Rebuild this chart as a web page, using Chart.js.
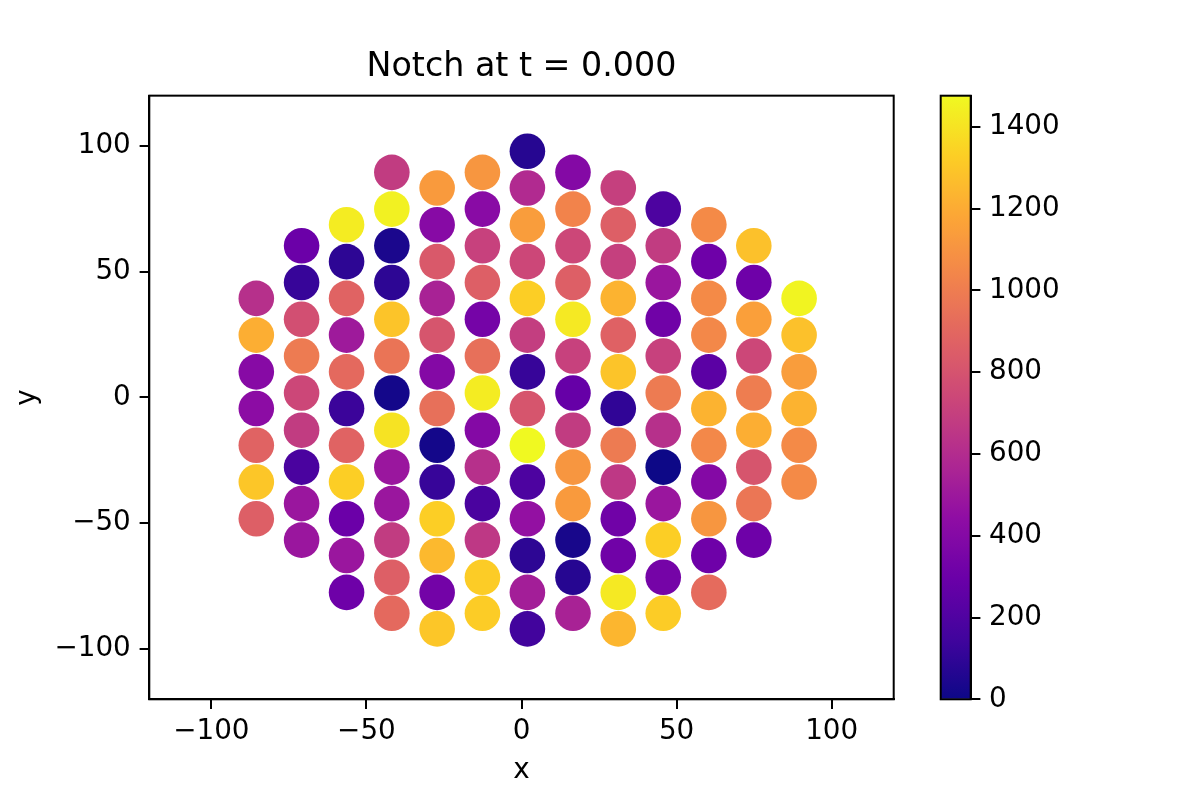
<!DOCTYPE html>
<html>
<head>
<meta charset="utf-8">
<title>Notch at t = 0.000</title>
<script src="https://cdn.jsdelivr.net/npm/chart.js@4/dist/chart.umd.min.js"></script>
<style>
  html, body { margin: 0; padding: 0; background: #ffffff; }
  #wrap { position: relative; width: 1200px; height: 800px; background: #ffffff; overflow: hidden; }
  #main { position: absolute; left: 0; top: 0; }
  #cbar { position: absolute; left: 900px; top: 0; }
</style>
</head>
<body>
<div id="wrap">
  <canvas id="main" width="940" height="800"></canvas>
  <canvas id="cbar" width="300" height="800"></canvas>
</div>
<script>
// ---------------- data ----------------
const titleText = 'Notch at t = 0.000';
const xLabel = 'x';
const yLabel = 'y';

// point x coordinates, one column per line
const xValues = [
  -85.5, -85.5, -85.5, -85.5, -85.5, -85.5, -85.5,
  -70.9, -70.9, -70.9, -70.9, -70.9, -70.9, -70.9, -70.9, -70.9,
  -56.4, -56.4, -56.4, -56.4, -56.4, -56.4, -56.4, -56.4, -56.4, -56.4, -56.4,
  -41.8, -41.8, -41.8, -41.8, -41.8, -41.8, -41.8, -41.8, -41.8, -41.8, -41.8, -41.8, -41.8,
  -27.2, -27.2, -27.2, -27.2, -27.2, -27.2, -27.2, -27.2, -27.2, -27.2, -27.2, -27.2, -27.2,
  -12.6, -12.6, -12.6, -12.6, -12.6, -12.6, -12.6, -12.6, -12.6, -12.6, -12.6, -12.6, -12.6,
  1.9, 1.9, 1.9, 1.9, 1.9, 1.9, 1.9, 1.9, 1.9, 1.9, 1.9, 1.9, 1.9, 1.9,
  16.6, 16.6, 16.6, 16.6, 16.6, 16.6, 16.6, 16.6, 16.6, 16.6, 16.6, 16.6, 16.6,
  31.2, 31.2, 31.2, 31.2, 31.2, 31.2, 31.2, 31.2, 31.2, 31.2, 31.2, 31.2, 31.2,
  45.7, 45.7, 45.7, 45.7, 45.7, 45.7, 45.7, 45.7, 45.7, 45.7, 45.7, 45.7,
  60.4, 60.4, 60.4, 60.4, 60.4, 60.4, 60.4, 60.4, 60.4, 60.4, 60.4,
  74.9, 74.9, 74.9, 74.9, 74.9, 74.9, 74.9, 74.9, 74.9,
  89.5, 89.5, 89.5, 89.5, 89.5, 89.5
];

// point y coordinates, one column per line
const yValues = [
  39.4, 24.8, 10.2, -4.4, -19.0, -33.6, -48.2,
  60.3, 45.7, 31.1, 16.5, 1.8, -13.0, -27.7, -42.2, -56.7,
  68.7, 54.0, 39.4, 24.8, 10.2, -4.4, -19.0, -33.6, -48.2, -62.8, -77.5,
  89.5, 74.9, 60.3, 45.7, 31.1, 16.5, 1.8, -13.0, -27.7, -42.2, -56.7, -71.5, -85.8,
  83.3, 68.7, 54.0, 39.4, 24.8, 10.2, -4.4, -19.0, -33.6, -48.2, -62.8, -77.5, -92.0,
  89.5, 74.9, 60.3, 45.7, 31.1, 16.5, 1.8, -13.0, -27.7, -42.2, -56.7, -71.5, -85.8,
  97.9, 83.3, 68.7, 54.0, 39.4, 24.8, 10.2, -4.4, -19.0, -33.6, -48.2, -62.8, -77.5, -92.0,
  89.5, 74.9, 60.3, 45.7, 31.1, 16.5, 1.8, -13.0, -27.7, -42.2, -56.7, -71.5, -85.8,
  83.3, 68.7, 54.0, 39.4, 24.8, 10.2, -4.4, -19.0, -33.6, -48.2, -62.8, -77.5, -92.0,
  74.9, 60.3, 45.7, 31.1, 16.5, 1.8, -13.0, -27.7, -42.2, -56.7, -71.5, -85.8,
  68.7, 54.0, 39.4, 24.8, 10.2, -4.4, -19.0, -33.6, -48.2, -62.8, -77.5,
  60.3, 45.7, 31.1, 16.5, 1.8, -13.0, -27.7, -42.2, -56.7,
  39.4, 24.8, 10.2, -4.4, -19.0, -33.6
];

// Notch value per point (colour), one column per line
const notchValues = [
  620, 1210, 410, 430, 880, 1300, 860,
  300, 120, 780, 990, 740, 680, 180, 490, 490,
  1430, 90, 880, 510, 910, 130, 880, 1330, 300, 490, 310,
  680, 1450, 40, 90, 1290, 960, 20, 1400, 490, 490, 680, 860, 910,
  1130, 410, 830, 550, 810, 400, 940, 20, 120, 1330, 1250, 330, 1300,
  1110, 420, 710, 860, 340, 940, 1430, 400, 620, 180, 660, 1320, 1320,
  70, 590, 1140, 740, 1330, 690, 120, 810, 1476, 190, 460, 90, 530, 150,
  400, 1030, 740, 860, 1420, 710, 280, 680, 1110, 1130, 30, 70, 550,
  700, 860, 700, 1230, 870, 1290, 100, 990, 660, 320, 320, 1420, 1240,
  190, 680, 490, 320, 710, 990, 620, 0, 490, 1330, 340, 1320,
  1060, 310, 1060, 1050, 240, 1230, 1050, 400, 1110, 310, 920,
  1280, 310, 1150, 740, 1000, 1210, 810, 970, 310,
  1460, 1280, 1140, 1230, 1060, 1060
];

const xRange = [-120, 120];
const yRange = [-120, 120];
const xTicks = [-100, -50, 0, 50, 100];
const yTicks = [-100, -50, 0, 50, 100];
const colorMin = 0;
const colorMax = 1476;
const colorTicks = [0, 200, 400, 600, 800, 1000, 1200, 1400];

// ---------------- styling helpers ----------------
const plasmaStops = ['#0d0887', '#41049d', '#6a00a8', '#8f0da4', '#b12a90', '#cc4778',
                     '#e16462', '#f2844b', '#fca636', '#fcce25', '#f0f921'];
function hexToRgb(h) {
  return [parseInt(h.slice(1, 3), 16), parseInt(h.slice(3, 5), 16), parseInt(h.slice(5, 7), 16)];
}
const plasmaRgb = plasmaStops.map(hexToRgb);
function plasma(t) {
  t = Math.max(0, Math.min(1, t));
  const n = plasmaRgb.length - 1;
  const p = t * n;
  const i = Math.min(Math.floor(p), n - 1);
  const f = p - i;
  const a = plasmaRgb[i], b = plasmaRgb[i + 1];
  const c = [0, 1, 2].map(k => Math.round(a[k] + (b[k] - a[k]) * f));
  return 'rgb(' + c[0] + ',' + c[1] + ',' + c[2] + ')';
}
function fmt(v) {
  return v < 0 ? '\u2212' + Math.abs(v) : String(v);
}

Chart.defaults.font.family = "'DejaVu Sans', 'Liberation Sans', sans-serif";
Chart.defaults.color = '#000000';

const tickFont = { size: 27.8 };
const framePlugin = {
  id: 'frame',
  afterDraw(chart) {
    const { ctx, chartArea: a } = chart;
    ctx.save();
    ctx.strokeStyle = '#000000';
    ctx.lineWidth = 2;
    ctx.strokeRect(a.left, a.top, a.right - a.left, a.bottom - a.top);
    ctx.restore();
  }
};

// ---------------- main scatter ----------------
const points = xValues.map((x, i) => ({ x: x, y: yValues[i] }));
const pointColors = notchValues.map(v => plasma((v - colorMin) / (colorMax - colorMin)));

new Chart(document.getElementById('main'), {
  type: 'scatter',
  data: {
    datasets: [{
      data: points,
      pointBackgroundColor: pointColors,
      pointBorderWidth: 0,
      pointRadius: 17.8,
      pointHoverRadius: 17.8,
      showLine: false
    }]
  },
  options: {
    responsive: false,
    animation: false,
    events: [],
    layout: { padding: { left: 0, right: 46.3, top: 0, bottom: 0 } },
    plugins: {
      legend: { display: false },
      tooltip: { enabled: false },
      title: {
        display: true,
        text: titleText,
        fullSize: false,
        color: '#000000',
        font: { size: 33.3, weight: 'normal' },
        padding: { top: 47.5, bottom: 8.2 }
      }
    },
    scales: {
      x: {
        type: 'linear',
        position: 'bottom',
        min: xRange[0],
        max: xRange[1],
        afterBuildTicks: s => { s.ticks = xTicks.map(v => ({ value: v })); },
        afterFit: s => { s.height = 100.7; },
        grid: { display: true, drawOnChartArea: false, drawTicks: true, tickLength: 9.7, color: '#000000', lineWidth: 2 },
        border: { display: true, color: '#000000', width: 2 },
        ticks: { font: tickFont, color: '#000000', padding: 5.7, maxRotation: 0, callback: v => fmt(v) },
        title: { display: true, text: xLabel, color: '#000000', font: { size: 27.8 }, padding: { top: 0, bottom: 12.9 } }
      },
      y: {
        type: 'linear',
        position: 'left',
        min: yRange[0],
        max: yRange[1],
        afterBuildTicks: s => { s.ticks = yTicks.map(v => ({ value: v })); },
        afterFit: s => { s.width = 149.3; },
        grid: { display: true, drawOnChartArea: false, drawTicks: true, tickLength: 9.7, color: '#000000', lineWidth: 2 },
        border: { display: true, color: '#000000', width: 2 },
        ticks: { font: tickFont, color: '#000000', padding: 8.8, callback: v => fmt(v) },
        title: { display: true, text: yLabel, color: '#000000', font: { size: 27.8 }, padding: { top: 11.3, bottom: 0 } }
      }
    }
  },
  plugins: [framePlugin]
});

// ---------------- colour bar ----------------
new Chart(document.getElementById('cbar'), {
  type: 'bar',
  data: {
    labels: [''],
    datasets: [{
      data: [colorMax],
      borderWidth: 0,
      barPercentage: 1,
      categoryPercentage: 1,
      backgroundColor: (c) => {
        const a = c.chart.chartArea;
        if (!a) return plasmaStops[0];
        const g = c.chart.ctx.createLinearGradient(0, a.bottom, 0, a.top);
        const steps = 40;
        for (let i = 0; i <= steps; i++) g.addColorStop(i / steps, plasma(i / steps));
        return g;
      }
    }]
  },
  options: {
    responsive: false,
    animation: false,
    events: [],
    layout: { padding: { left: 40.7, right: 0, top: 95.7, bottom: 100.7 } },
    plugins: { legend: { display: false }, tooltip: { enabled: false }, title: { display: false } },
    scales: {
      x: { display: false },
      y: {
        type: 'linear',
        position: 'right',
        min: colorMin,
        max: colorMax,
        afterBuildTicks: s => { s.ticks = colorTicks.map(v => ({ value: v })); },
        afterFit: s => { s.width = 229.3; },
        grid: { display: true, drawOnChartArea: false, drawTicks: true, tickLength: 9.7, color: '#000000', lineWidth: 2 },
        border: { display: true, color: '#000000', width: 2 },
        ticks: { font: tickFont, color: '#000000', padding: 8.6, callback: v => fmt(v) }
      }
    }
  },
  plugins: [framePlugin]
});
</script>
</body>
</html>
